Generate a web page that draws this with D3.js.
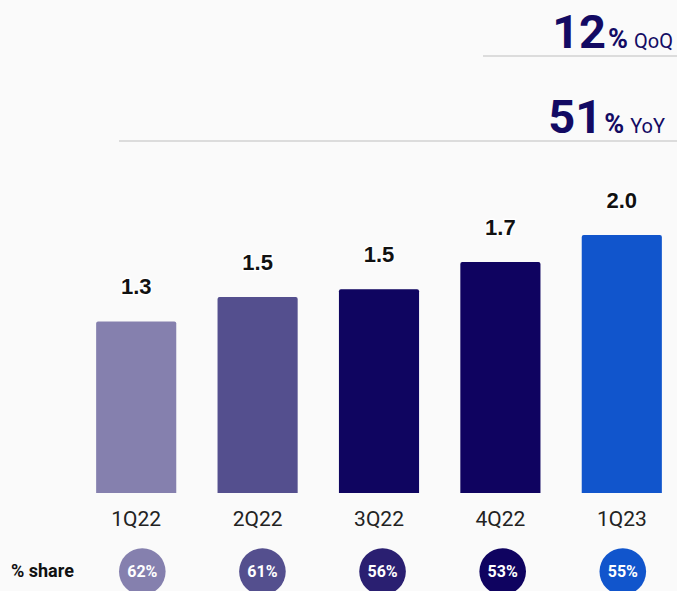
<!DOCTYPE html>
<html>
<head>
<meta charset="utf-8">
<script src="https://cdn.jsdelivr.net/npm/d3@7"></script>
<style>
  html, body { margin: 0; padding: 0; background: #fafafa; }
  svg { display: block; }
</style>
</head>
<body>
<svg id="chart" width="677" height="591"></svg>
<script>
// Quarterly values (labels show them truncated to one decimal)
const quarters = ["1Q22", "2Q22", "3Q22", "4Q22", "1Q23"];
const values = [1.33, 1.52, 1.58, 1.79, 2.00];
const shares = [62, 61, 56, 53, 55];
const barColors = ["#8580ae", "#544f8e", "#0f0560", "#0f0360", "#1155cc"];
const shareColors = ["#8580ae", "#544f8e", "#2a1f71", "#0f0360", "#1155cc"];
const growthLabels = ["12", "51"];
const growthUnits = ["QoQ", "YoY"];

const svg = d3.select("#chart");
const W = 677, H = 591;

svg.append("rect").attr("width", W).attr("height", H).attr("fill", "#fafafa");

const x = d3.scaleBand()
  .domain(quarters)
  .range([75.5, 682.5])
  .paddingInner(0.34)
  .paddingOuter(0.17);

const baseY = 493;
const y = d3.scaleLinear().domain([0, 2.0]).range([baseY, baseY - 258]);

const truncFmt = v => (Math.floor(v * 10 + 1e-9) / 10).toFixed(1);

// Growth callouts with rules beneath
const callouts = [
  { big: growthLabels[0], unit: growthUnits[0], baseline: 48, ruleY: 56, ruleX0: 483, right: 673 },
  { big: growthLabels[1], unit: growthUnits[1], baseline: 133, ruleY: 141, ruleX0: 119, right: 665 }
];
callouts.forEach(c => {
  svg.append("line")
    .attr("x1", c.ruleX0).attr("x2", W)
    .attr("y1", c.ruleY).attr("y2", c.ruleY)
    .attr("stroke", "#dcdcdc").attr("stroke-width", 2);
  const t = svg.append("text")
    .attr("x", c.right).attr("y", c.baseline)
    .attr("text-anchor", "end")
    .attr("fill", "#130a63")
    .attr("font-family", "Roboto, sans-serif");
  t.append("tspan").attr("font-size", 47).attr("font-weight", 700).text(c.big);
  t.append("tspan").attr("font-size", 27).attr("font-weight", 700).attr("dx", 2).text("%");
  t.append("tspan").attr("font-size", 20).attr("font-weight", 400).attr("dx", 6).text(c.unit);
});

// Bars
svg.append("g").selectAll("path")
  .data(quarters)
  .join("path")
  .attr("d", (q, i) => {
    const x0 = x(q), w = x.bandwidth(), y0 = y(values[i]), r = 2;
    return `M${x0},${baseY}V${y0 + r}Q${x0},${y0} ${x0 + r},${y0}H${x0 + w - r}Q${x0 + w},${y0} ${x0 + w},${y0 + r}V${baseY}Z`;
  })
  .attr("fill", (q, i) => barColors[i]);

// Value labels with white halo
svg.append("g").selectAll("text")
  .data(quarters)
  .join("text")
  .attr("x", q => x(q) + x.bandwidth() / 2)
  .attr("y", (q, i) => y(values[i]) - 27)
  .attr("text-anchor", "middle")
  .attr("font-family", "'Liberation Sans', Arial, sans-serif")
  .attr("font-weight", 700)
  .attr("font-size", 22)
  .attr("fill", "#111")
  .attr("stroke", "#ffffff")
  .attr("stroke-width", 3)
  .attr("paint-order", "stroke")
  .text((q, i) => truncFmt(values[i]));

// Category axis labels
const xAxis = d3.axisBottom(x).tickSize(0).tickPadding(0);
const gx = svg.append("g").attr("transform", `translate(0,${baseY})`).call(xAxis);
gx.select(".domain").remove();
gx.selectAll("text")
  .attr("y", 33)
  .attr("dy", 0)
  .attr("font-family", "Roboto, sans-serif")
  .attr("font-size", 21)
  .attr("fill", "#222");

// Share row
svg.append("text")
  .attr("x", 11).attr("y", 577)
  .attr("font-family", "Roboto, sans-serif")
  .attr("font-weight", 700)
  .attr("font-size", 18)
  .attr("fill", "#111")
  .text("% share");

const sx = d3.scalePoint().domain(quarters).range([142.3, 622.8]);
const share = svg.append("g").selectAll("g")
  .data(quarters)
  .join("g")
  .attr("transform", q => `translate(${sx(q)},571.6)`);
share.append("circle")
  .attr("r", 23.3)
  .attr("fill", (q, i) => shareColors[i]);
share.append("text")
  .attr("y", 5.7)
  .attr("text-anchor", "middle")
  .attr("font-family", "Roboto, sans-serif")
  .attr("font-weight", 700)
  .attr("font-size", 16)
  .attr("fill", "#ffffff")
  .text((q, i) => shares[i] + "%");
</script>
</body>
</html>
